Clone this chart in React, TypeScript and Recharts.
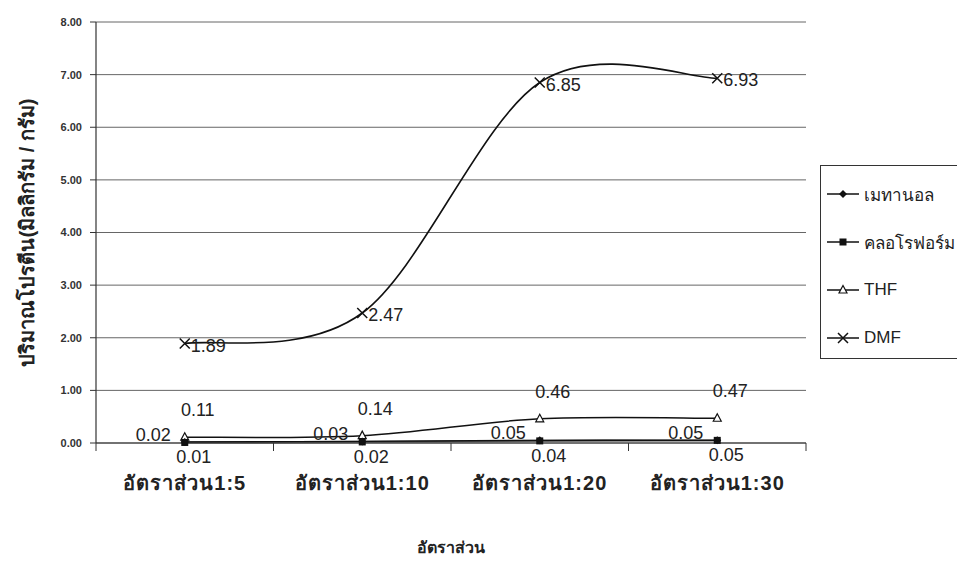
import React from "react";
import {
  LineChart,
  Line,
  XAxis,
  YAxis,
  CartesianGrid,
  LabelList,
} from "recharts";

// ── Data ──────────────────────────────────────────────────────────────────────

const ratios = ["อัตราส่วน1:5", "อัตราส่วน1:10", "อัตราส่วน1:20", "อัตราส่วน1:30"];
const methanol = [0.02, 0.03, 0.05, 0.05];
const chloroform = [0.01, 0.02, 0.04, 0.05];
const thf = [0.11, 0.14, 0.46, 0.47];
const dmf = [1.89, 2.47, 6.85, 6.93];
const yTicks = [0, 1, 2, 3, 4, 5, 6, 7, 8];
const seriesNames = ["เมทานอล", "คลอโรฟอร์ม", "THF", "DMF"];

const data = ratios.map((name, i) => ({
  pos: i + 0.5,
  name,
  methanol: methanol[i],
  chloroform: chloroform[i],
  thf: thf[i],
  dmf: dmf[i],
}));
const bandEdges = [...ratios.map((_, i) => i), ratios.length];
const bandCenters = ratios.map((_, i) => i + 0.5);

const FONT = "'Liberation Sans', Arial, sans-serif";
const INK = "#222";

// ── Excel-like smoothed line (Catmull-Rom as bezier) ─────────────────────────

function excelSmooth(context: any) {
  let pts: [number, number][] = [];
  return {
    areaStart() {},
    areaEnd() {},
    lineStart() {
      pts = [];
    },
    point(x: number, y: number) {
      pts.push([+x, +y]);
    },
    lineEnd() {
      const n = pts.length;
      if (!n) return;
      context.moveTo(pts[0][0], pts[0][1]);
      for (let i = 0; i < n - 1; i++) {
        const p0 = pts[Math.max(i - 1, 0)];
        const p1 = pts[i];
        const p2 = pts[i + 1];
        const p3 = pts[Math.min(i + 2, n - 1)];
        context.bezierCurveTo(
          p1[0] + (p2[0] - p0[0]) / 6,
          p1[1] + (p2[1] - p0[1]) / 6,
          p2[0] - (p3[0] - p1[0]) / 6,
          p2[1] - (p3[1] - p1[1]) / 6,
          p2[0],
          p2[1]
        );
      }
    },
  };
}

// ── Markers ───────────────────────────────────────────────────────────────────

function Marker({ kind, cx, cy }: { kind: string; cx: number; cy: number }) {
  if (kind === "diamond") {
    return <path d={`M${cx},${cy - 4}L${cx + 4},${cy}L${cx},${cy + 4}L${cx - 4},${cy}Z`} fill="#111" />;
  }
  if (kind === "square") {
    return <rect x={cx - 3.5} y={cy - 3.5} width={7} height={7} fill="#111" />;
  }
  if (kind === "triangle") {
    return (
      <path
        d={`M${cx},${cy - 4.5}L${cx + 4},${cy + 3}L${cx - 4},${cy + 3}Z`}
        fill="#fff"
        stroke="#111"
        strokeWidth={1.2}
      />
    );
  }
  return (
    <path
      d={`M${cx - 5},${cy - 5}L${cx + 5},${cy + 5}M${cx - 5},${cy + 5}L${cx + 5},${cy - 5}`}
      stroke="#111"
      strokeWidth={1.5}
    />
  );
}

const dotFor = (kind: string) => (props: any) =>
  <Marker key={`${kind}-${props.index}`} kind={kind} cx={props.cx} cy={props.cy} />;

// data labels: offsets relative to the point
const labelFor = (dx: number, dy: number, anchor: string) => (props: any) => {
  const { x, y, value, index } = props;
  return (
    <text
      key={`l-${index}`}
      x={x + dx}
      y={y + dy}
      textAnchor={anchor}
      dominantBaseline="central"
      fontSize={18}
      fontFamily={FONT}
      fill={INK}
    >
      {Number(value).toFixed(2)}
    </text>
  );
};

const NoTickText = () => <g />;

// ── Legend ────────────────────────────────────────────────────────────────────

const legendKinds = ["diamond", "square", "triangle", "cross"];

function LegendBox() {
  return (
    <div
      style={{
        position: "absolute",
        left: 820,
        top: 165,
        boxSizing: "border-box",
        width: 137,
        height: 194,
        borderLeft: "1.5px solid #333",
        borderTop: "1.5px solid #333",
        borderBottom: "1.5px solid #333",
        paddingTop: 4,
        background: "#fff",
        fontFamily: FONT,
      }}
    >
      {seriesNames.map((name, i) => (
        <div key={name} style={{ height: 48, display: "flex", alignItems: "center", paddingLeft: 6 }}>
          <svg width={32} height={14} style={{ flex: "none" }}>
            <line x1={0} y1={7} x2={32} y2={7} stroke="#111" strokeWidth={1.5} />
            <Marker kind={legendKinds[i]} cx={16} cy={7} />
          </svg>
          <span style={{ marginLeft: 5, fontSize: 17, color: INK, whiteSpace: "nowrap" }}>{name}</span>
        </div>
      ))}
    </div>
  );
}

// ── Chart ─────────────────────────────────────────────────────────────────────

export default function App() {
  return (
    <div style={{ position: "absolute", left: 0, top: 0, width: 957, height: 570, background: "#fff", fontFamily: FONT }}>
      <LineChart width={957} height={570} data={data} margin={{ top: 22, right: 151, bottom: 13, left: 0 }}>
        <CartesianGrid horizontal vertical={false} stroke="#666" strokeWidth={1} />
        <XAxis
          xAxisId="edges"
          dataKey="pos"
          type="number"
          domain={[0, ratios.length]}
          ticks={bandEdges}
          interval={0}
          tick={<NoTickText />}
          tickSize={8}
          height={10}
          axisLine={{ stroke: "#333", strokeWidth: 1.2 }}
          tickLine={{ stroke: "#333" }}
        />
        <XAxis
          xAxisId="labels"
          dataKey="pos"
          type="number"
          domain={[0, ratios.length]}
          ticks={bandCenters}
          interval={0}
          height={104}
          axisLine={false}
          tickLine={false}
          tickMargin={17}
          tickFormatter={(v: number) => ratios[Math.floor(v)]}
          tick={{ fontSize: 20, fontWeight: "bold", fill: INK, fontFamily: FONT, letterSpacing: 1 }}
          label={{
            value: "อัตราส่วน",
            position: "insideBottom",
            offset: 4,
            style: { fontSize: 16, fontWeight: "bold", fill: INK, fontFamily: FONT },
          }}
        />
        <YAxis
          domain={[0, 8]}
          ticks={yTicks}
          width={96}
          tickFormatter={(v: number) => v.toFixed(2)}
          tick={{ fontSize: 11, fontWeight: "bold", fill: "#333", fontFamily: FONT }}
          tickSize={6}
          tickMargin={8}
          axisLine={{ stroke: "#333", strokeWidth: 1.2 }}
          tickLine={{ stroke: "#333" }}
          label={{
            value: "ปริมาณโปรตีน(มิลลิกรัม / กรัม)",
            angle: -90,
            position: "insideLeft",
            offset: 27,
            style: { textAnchor: "middle", fontSize: 20, fontWeight: "bold", fill: INK, fontFamily: FONT },
          }}
        />

        <Line
          xAxisId="edges"
          dataKey="dmf"
          name="DMF"
          type={excelSmooth as any}
          stroke="#111"
          strokeWidth={1.6}
          dot={dotFor("cross")}
          activeDot={false}
          isAnimationActive={false}
        >
          <LabelList dataKey="dmf" content={labelFor(6, 2, "start")} />
        </Line>
        <Line
          xAxisId="edges"
          dataKey="thf"
          name="THF"
          type={excelSmooth as any}
          stroke="#111"
          strokeWidth={1.5}
          dot={dotFor("triangle")}
          activeDot={false}
          isAnimationActive={false}
        >
          <LabelList dataKey="thf" content={labelFor(13, -27, "middle")} />
        </Line>
        <Line
          xAxisId="edges"
          dataKey="chloroform"
          name="คลอโรฟอร์ม"
          type={excelSmooth as any}
          stroke="#666"
          strokeWidth={2.2}
          dot={dotFor("square")}
          activeDot={false}
          isAnimationActive={false}
        >
          <LabelList dataKey="chloroform" content={labelFor(9, 15, "middle")} />
        </Line>
        <Line
          xAxisId="edges"
          dataKey="methanol"
          name="เมทานอล"
          type={excelSmooth as any}
          stroke="#111"
          strokeWidth={1.4}
          dot={dotFor("diamond")}
          activeDot={false}
          isAnimationActive={false}
        >
          <LabelList dataKey="methanol" content={labelFor(-14, -7, "end")} />
        </Line>
      </LineChart>
      <LegendBox />
    </div>
  );
}
